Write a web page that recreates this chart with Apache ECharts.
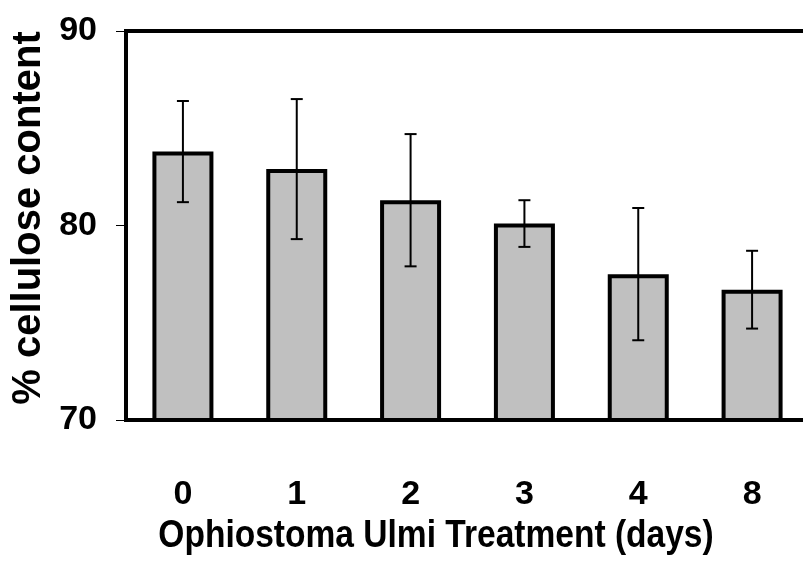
<!DOCTYPE html>
<html>
<head>
<meta charset="utf-8">
<script src="https://cdn.jsdelivr.net/npm/echarts@6/dist/echarts.min.js"></script>
<style>
html, body { margin: 0; padding: 0; background: #fff; }
#myChart { width: 803px; height: 571px; }
</style>
</head>
<body>
<div id="myChart"></div>
<script>
// data
let days = ['0', '1', '2', '3', '4', '8']
let cellulose = [83.8, 82.9, 81.3, 80.1, 77.5, 76.7]
let stdErr = [2.6, 3.6, 3.4, 1.2, 3.4, 2.0]
let yTicks = [70, 80, 90]
let xTitle = 'Ophiostoma Ulmi Treatment (days)'
let yTitle = '% cellulose content'

let font = '"Liberation Sans", Arial, sans-serif'

let myChart = echarts.init(document.getElementById('myChart'))

let errData = days.map((d, i) => [i, cellulose[i] - stdErr[i], cellulose[i] + stdErr[i]])

let option = {
    animation: false,
    grid: {
        left: 126,
        top: 31,
        width: 683,
        height: 389,
        outerBoundsMode: 'none',
        containLabel: false,
        show: true,
        borderColor: '#000',
        borderWidth: 4
    },
    graphic: [
        {
            // x axis title, squeezed to look like a narrow face
            type: 'text',
            x: 436,
            y: 536,
            scaleX: 0.86,
            style: {
                text: xTitle,
                font: 'bold 39px ' + font,
                fill: '#000',
                textAlign: 'center',
                textVerticalAlign: 'middle'
            }
        },
        {
            // y axis title
            type: 'text',
            x: 29,
            y: 218,
            rotation: Math.PI / 2,
            style: {
                text: yTitle,
                font: 'bold 40px ' + font,
                fill: '#000',
                textAlign: 'center',
                textVerticalAlign: 'middle'
            }
        }
    ],
    xAxis: {
        type: 'category',
        data: days,
        axisLine: { lineStyle: { color: '#000', width: 4 } },
        axisTick: { length: 15, lineStyle: { color: '#000', width: 1 } },
        axisLabel: {
            margin: 58,
            color: '#000',
            fontFamily: font,
            fontWeight: 'bold',
            fontSize: 34
        }
    },
    yAxis: {
        type: 'value',
        min: yTicks[0],
        max: yTicks[yTicks.length - 1],
        interval: 10,
        splitLine: { show: false },
        axisLine: { show: true, lineStyle: { color: '#000', width: 4 } },
        axisTick: { show: true, length: 10, lineStyle: { color: '#000', width: 1 } },
        axisLabel: {
            margin: 29,
            color: '#000',
            fontFamily: font,
            fontWeight: 'bold',
            fontSize: 34
        }
    },
    series: [
        {
            type: 'bar',
            data: cellulose,
            barWidth: 61,
            itemStyle: {
                color: '#c0c0c0',
                borderColor: '#000',
                borderWidth: 4
            }
        },
        {
            type: 'custom',
            data: errData,
            z: 5,
            renderItem: function (params, api) {
                let x = api.value(0)
                let lo = api.coord([x, api.value(1)])
                let hi = api.coord([x, api.value(2)])
                let half = 6
                let style = { stroke: '#000', lineWidth: 2 }
                return {
                    type: 'group',
                    children: [
                        { type: 'line', shape: { x1: hi[0], y1: hi[1], x2: lo[0], y2: lo[1] }, style: style },
                        { type: 'line', shape: { x1: hi[0] - half, y1: hi[1], x2: hi[0] + half, y2: hi[1] }, style: style },
                        { type: 'line', shape: { x1: lo[0] - half, y1: lo[1], x2: lo[0] + half, y2: lo[1] }, style: style }
                    ]
                }
            }
        }
    ]
}
myChart.setOption(option)

window.addEventListener('resize', () => {
    myChart.resize()
})
</script>
</body>
</html>
